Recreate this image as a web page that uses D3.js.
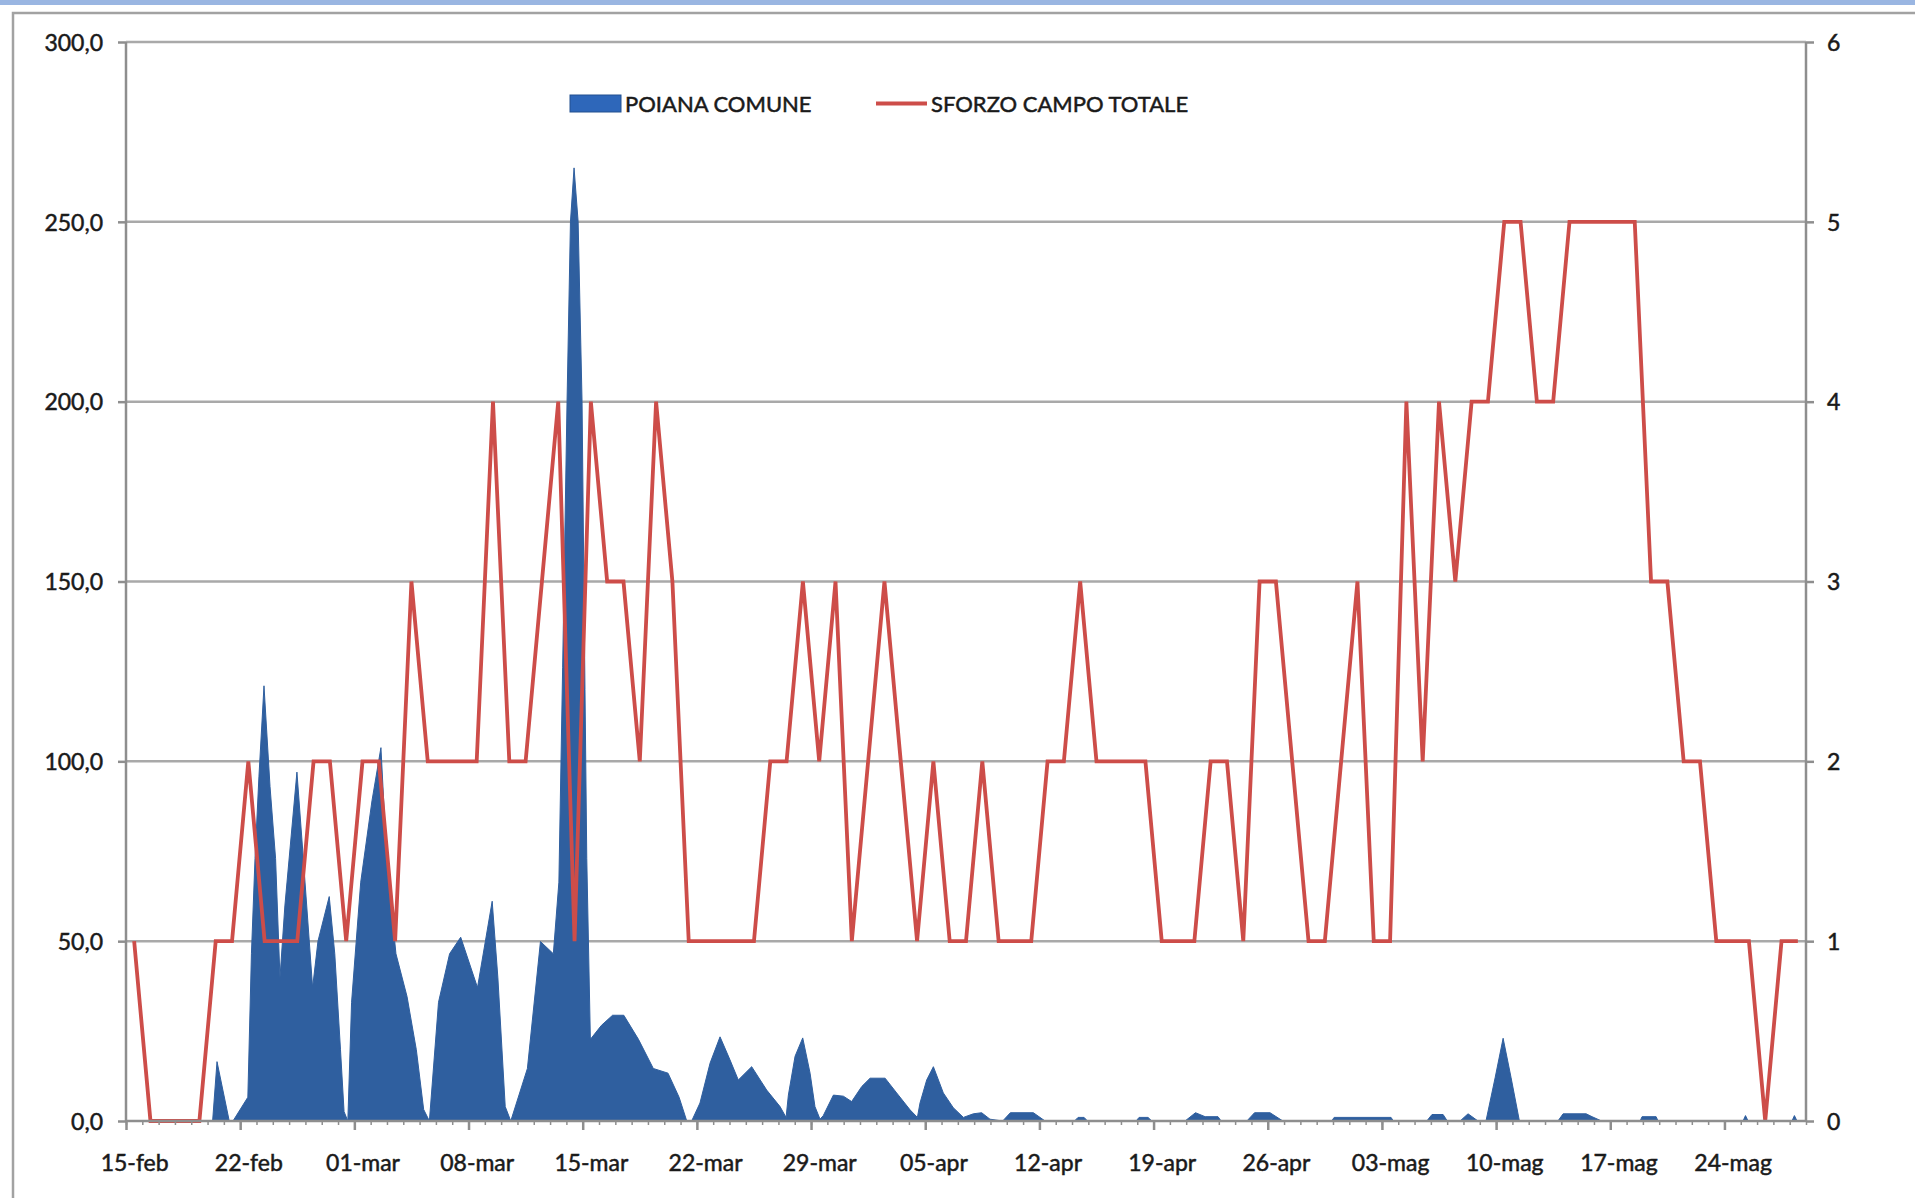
<!DOCTYPE html>
<html>
<head>
<meta charset="utf-8">
<script src="https://cdn.jsdelivr.net/npm/d3@7"></script>
<style>
  body { margin: 0; background: #fff; }
  svg { display: block; font-family: Lato, "Open Sans", sans-serif; }
</style>
</head>
<body>
<svg id="chart" width="1915" height="1198"></svg>
<script>
// sforzo campo totale, one value per day starting 15-feb (right axis)
const sforzo = [1, 0, 0, 0, 0, 1, 1, 2, 1, 1, 1, 2, 2, 1, 2, 2, 1, 3, 2, 2, 2, 2, 4, 2, 2, 3, 4, 1, 4, 3,
  3, 2, 4, 3, 1, 1, 1, 1, 1, 2, 2, 3, 2, 3, 1, 2, 3, 2, 1, 2, 1, 1, 2, 1, 1, 1, 2, 2, 3, 2,
  2, 2, 2, 1, 1, 1, 2, 2, 1, 3, 3, 2, 1, 1, 2, 3, 1, 1, 4, 2, 4, 3, 4, 4, 5, 5, 4, 4, 5, 5,
  5, 5, 5, 3, 3, 2, 2, 1, 1, 1, 0, 1, 1]

// poiana comune: position in days from 15-feb and value (left axis)
const poianaDay = [5.31, 5.58, 6.33,
  6.56, 7.47, 7.69, 7.91, 8.15, 8.46, 8.83, 9.17, 9.44, 9.74, 10.48, 10.87, 11.44, 11.77, 12.46, 12.80, 13.15, 13.37,
  13.60, 13.83, 14.39, 15.08, 15.63, 15.98, 16.55, 17.23, 17.80, 18.25,
  18.60, 19.16, 19.84, 20.52, 21.55, 22.45, 22.80, 23.25,
  23.59, 24.61, 25.41, 26.20, 26.54, 26.77, 27.04, 27.25, 27.47, 27.72, 27.96, 28.14, 28.25, 28.47, 29.15, 29.83,
  30.52, 31.42, 32.33, 33.23, 33.91, 34.38,
  34.68, 35.19, 35.81, 36.42, 37.03, 37.54, 38.36, 39.28, 40.10, 40.47,
  40.61, 41.02, 41.49, 41.94, 42.24, 42.55,
  42.75, 43.37, 43.98, 44.49, 45.11, 45.62, 46.54, 47.25, 48.07, 48.52,
  48.68, 49.09, 49.50, 50.11, 50.72, 51.34,
  51.95, 52.46, 52.97,
  53.75, 54.22, 55.63, 56.35,
  58.15, 58.37, 58.74, 58.95,
  61.93, 62.11, 62.66, 62.89,
  64.93, 65.57, 66.16, 66.95, 67.14,
  68.72, 69.19, 70.14, 70.93,
  73.92, 74.07, 77.56, 77.70,
  79.75, 80.07, 80.75, 81.01,
  81.79, 82.28, 82.89,
  83.38, 83.94, 84.43, 84.92, 85.43,
  87.79, 88.11, 89.52, 89.88, 90.47,
  92.83, 92.95, 93.81, 93.93,
  99.14, 99.29, 99.45,
  102.14, 102.29, 102.45]
const poianaVal = [0, 16.5, 0,
  0, 6.6, 46.5, 73, 95.7, 121, 93, 73, 39.8, 59.8, 97, 73, 37.1, 50, 62.4, 46.5, 19.8, 2.6,
  0, 33, 66.4, 89, 103.8, 73, 46.5, 34.6, 19.8, 3.2,
  0, 33, 46.5, 51.1, 37.1, 61.1, 39.8, 4,
  0, 14.6, 49.9, 46.5, 66.4, 126, 200, 250, 265, 250, 200, 120, 73, 22.7, 26.6, 29.4,
  29.4, 22.7, 14.6, 13.3, 6.6, 0,
  0, 5, 16.1, 23.4, 17, 11.4, 15.1, 8.6, 4, 1,
  7.2, 18, 23.1, 13.3, 4, 0.5,
  1.5, 7.2, 6.9, 5.4, 9.6, 11.9, 11.9, 7.8, 3.1, 1,
  5, 11.4, 15.1, 7.8, 3.7, 1,
  2, 2.3, 0.5,
  0, 2.3, 2.3, 0,
  0, 1, 1, 0,
  0, 1, 1, 0,
  0, 2.3, 1.2, 1.2, 0,
  0, 2.3, 2.3, 0,
  0, 1, 1, 0,
  0, 1.8, 1.8, 0,
  0, 2, 0,
  0, 12, 23, 12, 0,
  0, 2, 2, 1.2, 0,
  0, 1.2, 1.2, 0,
  0, 1.5, 0,
  0, 1.5, 0]

const dateLabels = ["15-feb", "22-feb", "01-mar", "08-mar", "15-mar", "22-mar", "29-mar", "05-apr",
  "12-apr", "19-apr", "26-apr", "03-mag", "10-mag", "17-mag", "24-mag"]
const leftTicks = [0, 50, 100, 150, 200, 250, 300]
const rightTicks = [0, 1, 2, 3, 4, 5, 6]
const seriesNames = ["POIANA COMUNE", "SFORZO CAMPO TOTALE"]

const blue = "#2f5f9f", red = "#cd4d49", grid = "#a9a9a9", axisCol = "#8e8e8e", textCol = "#1a1a1a"

const svg = d3.select("#chart")
const plotLeft = 126, plotRight = 1806, plotTop = 42, plotBottom = 1121

let x = d3.scaleLinear().domain([0, sforzo.length]).range([plotLeft, plotRight])
let yL = d3.scaleLinear().domain([0, 300]).range([plotBottom, plotTop])
let yR = d3.scaleLinear().domain([0, 6]).range([plotBottom, plotTop])
let itFmt = d3.formatLocale({decimal: ",", thousands: ".", grouping: [3], currency: ["", "€"]}).format(".1f")

// page decoration: blue strip and chart frame
svg.append("rect").attr("x", 0).attr("y", 0).attr("width", 1915).attr("height", 5).attr("fill", "#9ab6e2")
svg.append("rect").attr("x", 13).attr("y", 13).attr("width", 1930).attr("height", 1220)
  .attr("fill", "none").attr("stroke", "#a2a2a2").attr("stroke-width", 2.5)

// gridlines
svg.append("g").selectAll("line").data(leftTicks.slice(1)).enter().append("line")
  .attr("x1", plotLeft).attr("x2", plotRight)
  .attr("y1", d => yL(d)).attr("y2", d => yL(d))
  .attr("stroke", grid).attr("stroke-width", 2.5)

// blue area
let area = d3.area()
  .x((d, i) => x(poianaDay[i]))
  .y0(yL(0))
  .y1(d => yL(d))
svg.append("path").datum(poianaVal).attr("d", area)
  .attr("fill", blue).attr("stroke", blue).attr("stroke-width", 1)

// red line, drawn at category centres
let line = d3.line()
  .x((d, i) => x(i + 0.5))
  .y(d => yR(d))
svg.append("path").datum(sforzo).attr("d", line)
  .attr("fill", "none").attr("stroke", red).attr("stroke-width", 3.8).attr("stroke-linejoin", "miter")

// left and right axes
let gL = svg.append("g").attr("transform", `translate(${plotLeft},0)`)
  .call(d3.axisLeft(yL).tickValues(leftTicks).tickFormat(itFmt).tickSize(8).tickPadding(15))
let gR = svg.append("g").attr("transform", `translate(${plotRight},0)`)
  .call(d3.axisRight(yR).tickValues(rightTicks).tickFormat(d3.format("d")).tickSize(8).tickPadding(13))

// bottom axis: minor ticks every day, major ticks every 7 days
let minor = d3.range(0, sforzo.length + 1)
let gM = svg.append("g").attr("transform", `translate(0,${plotBottom})`)
  .call(d3.axisBottom(x).tickValues(minor).tickFormat("").tickSize(4))
gM.select(".domain").remove()
gM.selectAll(".tick line").attr("stroke", axisCol).attr("stroke-width", 1.5)

let gB = svg.append("g").attr("transform", `translate(0,${plotBottom})`)
  .call(d3.axisBottom(x).tickValues(dateLabels.map((d, i) => i * 7)).tickFormat((d, i) => dateLabels[i]).tickSize(9))
gB.selectAll(".tick text").attr("x", (x(1) - x(0)) / 2).attr("y", 50).attr("dy", 0)

for (let g of [gL, gR, gB]) {
  g.selectAll(".domain").attr("stroke", axisCol).attr("stroke-width", 2.5)
  g.selectAll(".tick line").attr("stroke", axisCol).attr("stroke-width", 2.5)
  g.selectAll(".tick text").attr("fill", textCol).attr("stroke", textCol).attr("stroke-width", 0.5)
    .style("font-size", "23px")
    .style("font-family", "Lato, 'Open Sans', sans-serif")
}
gL.selectAll(".tick text").attr("dy", "0.36em")
gR.selectAll(".tick text").attr("dy", "0.36em")
gR.select(".domain").attr("d", `M0,${plotTop}V${plotBottom}`)
gL.select(".domain").attr("d", `M0,${plotTop}V${plotBottom}`)
gB.select(".domain").attr("d", `M${plotLeft},0H${plotRight}`)

// legend
let legend = svg.append("g")
legend.append("rect").attr("x", 570).attr("y", 95).attr("width", 51).attr("height", 17)
  .attr("fill", "#2e67ba").attr("stroke", "#23508f").attr("stroke-width", 1)
legend.append("line").attr("x1", 876).attr("x2", 927).attr("y1", 103.5).attr("y2", 103.5)
  .attr("stroke", red).attr("stroke-width", 3.8)
legend.selectAll("text").data(seriesNames).enter().append("text")
  .attr("x", (d, i) => i === 0 ? 625 : 931)
  .attr("y", 111.5)
  .attr("fill", textCol).attr("stroke", textCol).attr("stroke-width", 0.5)
  .style("font-size", "22px")
  .text(d => d)
</script>
</body>
</html>
